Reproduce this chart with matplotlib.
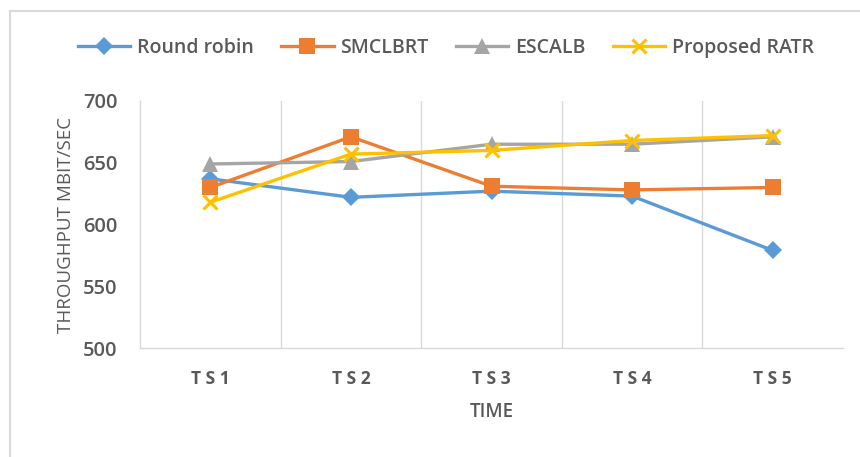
import matplotlib
matplotlib.use("Agg")
import matplotlib.pyplot as plt
from matplotlib.lines import Line2D

categories = ["T S 1", "T S 2", "T S 3", "T S 4", "T S 5"]
round_robin = [637, 622, 627, 623, 579]
smclbrt = [630, 671, 631, 628, 630]
escalb = [649, 651, 665, 665, 671]
proposed_ratr = [618, 657, 660, 668, 672]
series_names = ["Round robin", "SMCLBRT", "ESCALB", "Proposed RATR"]
yticks = [500, 550, 600, 650, 700]

plt.rcParams['font.family'] = ['Open Sans', 'DejaVu Sans']
text_color = '#595959'

fig = plt.figure(figsize=(8.6, 4.57), dpi=100)
ax = fig.add_axes([140/860, 1-348/457, 703/860, 247/457])

x = list(range(len(categories)))
styles = [
    (round_robin, '#5B9BD5', 'D', 9),
    (smclbrt, '#ED7D31', 's', 11),
    (escalb, '#A5A5A5', '^', 11),
    (proposed_ratr, '#FFC000', 'x', 10),
]
for (vals, col, mk, ms), name in zip(styles, series_names):
    kw = dict(markeredgewidth=2.2) if mk == 'x' else dict(markeredgewidth=0)
    ax.plot(x, vals, color=col, lw=2.4, marker=mk, markersize=ms,
            markerfacecolor=col, markeredgecolor=col, label=name, **kw)

ax.set_xlim(-0.5, len(categories)-0.5)
ax.set_ylim(500, 700)
ax.set_yticks(yticks)
ax.set_yticklabels([str(v) for v in yticks], fontsize=14.5, color=text_color, fontweight='semibold')
ax.set_xticks(x)
ax.set_xticklabels(categories, fontsize=12.5, color=text_color, fontweight='bold')
ax.tick_params(axis='both', length=0)
ax.tick_params(axis='x', pad=16)
ax.tick_params(axis='y', pad=16)
for b in [0.5, 1.5, 2.5, 3.5]:
    ax.axvline(b, color='#D9D9D9', lw=1, zorder=0)
for s in ['top', 'right']:
    ax.spines[s].set_visible(False)
for s in ['left', 'bottom']:
    ax.spines[s].set_color('#D9D9D9')
    ax.spines[s].set_linewidth(1)

ax.set_xlabel("TIME", fontsize=13.5, color=text_color, fontweight='semibold', labelpad=10)
ax.set_ylabel("THROUGHPUT MBIT/SEC", fontsize=13.5, color=text_color, labelpad=6)

leg = fig.legend(loc='center', bbox_to_anchor=(446/860, 1-48/457), ncol=4, frameon=False,
                 handlelength=2.7, handletextpad=0.35, columnspacing=1.4,
                 labelcolor=text_color, prop={'weight': 'semibold', 'size': 14})

fig.add_artist(Line2D([10/860, 10/860], [0, 1-11/457], transform=fig.transFigure, color='#D9D9D9', lw=1.5))
fig.add_artist(Line2D([10/860, 1], [1-11/457, 1-11/457], transform=fig.transFigure, color='#D9D9D9', lw=1.5))

fig.savefig("out.png", dpi=100)
